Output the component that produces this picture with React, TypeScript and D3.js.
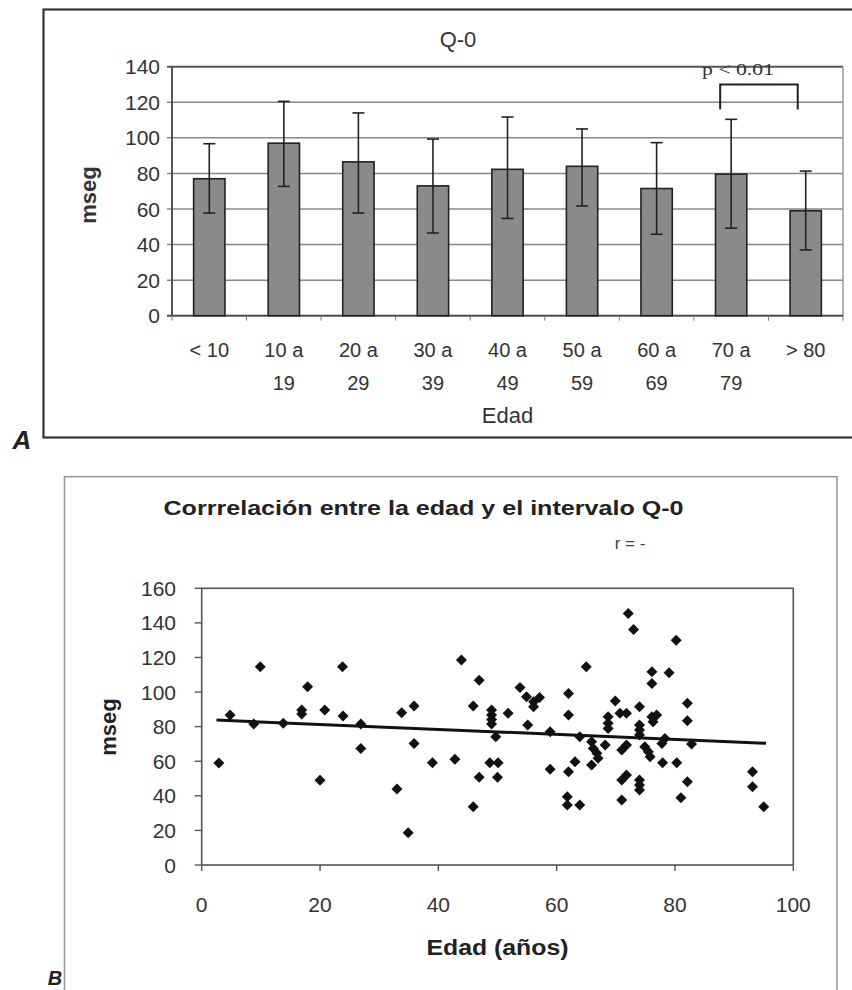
import React from "react";
import * as d3 from "d3";

// ---------- Chart A data ----------
const ageGroupsLine1 = ["< 10", "10 a", "20 a", "30 a", "40 a", "50 a", "60 a", "70 a", "> 80"];
const ageGroupsLine2 = ["", "19", "29", "39", "49", "59", "69", "79", ""];
const ageGroupIds = ["<10", "10-19", "20-29", "30-39", "40-49", "50-59", "60-69", "70-79", ">80"];
const meanQ0 = [77, 97, 86.5, 73, 82.3, 84, 71.5, 79.6, 59];
const upperQ0 = [96.7, 120.5, 114, 99.3, 111.7, 105, 97.3, 110.4, 81.3];
const lowerQ0 = [57.7, 72.7, 57.7, 46.5, 54.7, 61.7, 45.8, 49.2, 37];
const yTicksA = [0, 20, 40, 60, 80, 100, 120, 140];
const bracketFrom = "70-79";
const bracketTo = ">80";
const bracketValue = 130;
const bracketLegValue = 116;

// ---------- Chart B data ----------
const ageYears = [
  2.9, 4.8, 8.8, 9.9, 13.8, 16.9, 16.9, 17.9, 20, 20.8, 23.8, 23.9, 26.9, 26.9, 33, 33.8, 34.9, 35.9, 35.9, 39,
  42.8, 43.9, 45.9, 45.9, 46.9, 46.9, 48.7, 50.1, 50, 49, 49, 49, 49, 49.7, 51.8,
  53.8, 54.9, 56.1, 56.1, 57.1, 55.1, 58.9, 58.9, 62, 62, 62, 63.1, 61.8, 61.8, 63.9, 65, 63.9, 65.9, 66.2, 66.8,
  67, 65.9, 68.2, 68.7, 68.7, 68.7, 69.9, 70.7, 71.8, 71, 71.8, 71, 71.8, 71, 72.1, 73, 74, 74, 74, 74, 74, 74,
  74, 74.9, 75.5, 75.8, 76.1, 76.1, 76.1, 76.3, 76.9, 77.8, 78.3, 77.9, 80.3, 79, 80.2, 81, 82.1, 82.1, 82.1, 82.8,
  93.1, 93.1, 95,
];
const q0Values = [
  59, 86.7, 81.5, 114.6, 81.9, 89.6, 87.3, 103, 49, 89.6, 114.6, 86.1, 81.5, 67.4, 43.9, 88, 18.7, 91.9, 70.3, 59.1,
  61.1, 118.5, 33.7, 91.9, 106.9, 50.7, 59.1, 59.1, 50.7, 89.6, 86.7, 84.2, 81.5, 74.2, 87.7,
  102.7, 97.3, 94.4, 91.5, 96.9, 80.9, 77, 55.3, 99.2, 86.7, 53.9, 59.7, 39.5, 34.7, 34.7, 114.6, 74.2, 71.3, 67.4, 64.6,
  61.7, 57.8, 69.4, 85.7, 81.9, 79, 94.8, 87.7, 87.7, 66.5, 69.4, 49.1, 52, 37.6, 145.5, 136.2, 91.5, 80.9, 78, 75.1, 49.1, 46.2,
  43.4, 68.4, 65.5, 62.6, 111.7, 105, 85.7, 82.8, 86.7, 70.3, 73.2, 59.1, 59.1, 111.2, 130, 38.9, 93.5, 83.4, 48.2, 69.9,
  53.9, 45.3, 33.7,
];
const trendAges = [2.5, 95.4];
const trendQ0 = [83.8, 70.4];
const xTicksB = [0, 20, 40, 60, 80, 100];
const yTicksB = [0, 20, 40, 60, 80, 100, 120, 140, 160];

const SANS = "'Liberation Sans', Arial, sans-serif";
const SERIF = "'Liberation Serif', 'Times New Roman', serif";

function ChartA() {
  const left = 172, right = 843, top = 66.7, bottom = 315.7;
  const x = d3.scaleBand<string>().domain(ageGroupIds).range([left, right]).paddingInner(0.58).paddingOuter(0.29);
  const y = d3.scaleLinear().domain([0, 140]).range([bottom, top]);
  const bw = x.bandwidth();
  const bx0 = (x(bracketFrom) as number) + bw / 2 - 11;
  const bx1 = (x(bracketTo) as number) + bw / 2 - 8;
  const boundaries = d3.range(ageGroupIds.length + 1).map((i) => left + (i * (right - left)) / ageGroupIds.length);
  return (
    <g>
      <rect x={43.5} y={9.5} width={830} height={428} fill="none" stroke="#333" strokeWidth={2.2} />
      <text x={458} y={47} textAnchor="middle" fontFamily={SANS} fontSize={22} fill="#333">Q-0</text>
      {yTicksA.map((t) => (
        <line key={t} x1={left - 5} x2={right} y1={y(t)} y2={y(t)}
          stroke={t === 140 ? "#555" : "#888"} strokeWidth={t === 140 ? 2 : 1.5} />
      ))}
      <line x1={right} x2={right} y1={top} y2={bottom} stroke="#999" strokeWidth={1.5} />
      <line x1={left} x2={left} y1={top} y2={bottom} stroke="#444" strokeWidth={1.8} />
      <line x1={left - 5} x2={right} y1={bottom} y2={bottom} stroke="#444" strokeWidth={1.8} />
      {boundaries.map((b, i) => (
        <line key={i} x1={b} x2={b} y1={bottom} y2={bottom + 5} stroke="#777" strokeWidth={1} />
      ))}
      {yTicksA.map((t) => (
        <text key={t} x={160} y={y(t)} dy="0.36em" textAnchor="end" fontFamily={SANS} fontSize={21} fill="#333">{t}</text>
      ))}
      {ageGroupIds.map((g, i) => (
        <rect key={g} x={x(g)} y={y(meanQ0[i])} width={bw} height={bottom - y(meanQ0[i])}
          fill="#8a8a8a" stroke="#222" strokeWidth={1.6} />
      ))}
      {ageGroupIds.map((g, i) => {
        const cx = (x(g) as number) + bw / 2;
        return (
          <g key={g} stroke="#222" strokeWidth={1.6}>
            <line x1={cx} x2={cx} y1={y(upperQ0[i])} y2={y(lowerQ0[i])} />
            <line x1={cx - 6} x2={cx + 6} y1={y(upperQ0[i])} y2={y(upperQ0[i])} />
            <line x1={cx - 6} x2={cx + 6} y1={y(lowerQ0[i])} y2={y(lowerQ0[i])} />
          </g>
        );
      })}
      <path d={`M${bx0},${y(bracketLegValue)}V${y(bracketValue)}H${bx1}V${y(bracketLegValue)}`}
        fill="none" stroke="#222" strokeWidth={2} />
      <text x={738} y={75} textAnchor="middle" fontFamily={SERIF} fontSize={17} fill="#333"
        textLength={72} lengthAdjust="spacingAndGlyphs">p &lt; 0.01</text>
      {ageGroupIds.map((g, i) => {
        const cx = (x(g) as number) + bw / 2;
        return (
          <g key={g}>
            <text x={cx} y={357} textAnchor="middle" fontFamily={SANS} fontSize={20} fill="#333">{ageGroupsLine1[i]}</text>
            {ageGroupsLine2[i] && (
              <text x={cx} y={390} textAnchor="middle" fontFamily={SANS} fontSize={20} fill="#333">{ageGroupsLine2[i]}</text>
            )}
          </g>
        );
      })}
      <text x={(left + right) / 2} y={423} textAnchor="middle" fontFamily={SANS} fontSize={22} fill="#333">Edad</text>
      <text x={88} y={195} dy="0.35em" transform="rotate(-90 88 195)" textAnchor="middle" fontFamily={SANS}
        fontSize={22} fontWeight="bold" fill="#333">mseg</text>
      <text x={22} y={449} textAnchor="middle" fontFamily={SANS} fontSize={26} fontStyle="italic" fontWeight="bold" fill="#222">A</text>
    </g>
  );
}

function ChartB() {
  const left = 201.7, right = 793.3, top = 588.3, bottom = 865;
  const x = d3.scaleLinear().domain([0, 100]).range([left, right]);
  const y = d3.scaleLinear().domain([0, 160]).range([bottom, top]);
  const line = d3.line<number>().x((d) => x(d)).y((_, i) => y(trendQ0[i]));
  const diamond = "M0,-5.5L5.5,0L0,5.5L-5.5,0Z";
  return (
    <g>
      <rect x={64.5} y={476.7} width={772.5} height={520} fill="none" stroke="#999" strokeWidth={1.6} />
      <text x={423.5} y={515} textAnchor="middle" fontFamily={SANS} fontSize={21} fontWeight="bold" fill="#222"
        textLength={520} lengthAdjust="spacingAndGlyphs">Corrrelación entre la edad y el intervalo Q-0</text>
      <text x={630} y={549} textAnchor="middle" fontFamily={SANS} fontSize={17} fill="#444">r = -</text>
      <rect x={left} y={top} width={right - left} height={bottom - top} fill="none" stroke="#555" strokeWidth={1.6} />
      {yTicksB.map((t) => (
        <g key={t}>
          <line x1={left - 7} x2={left} y1={y(t)} y2={y(t)} stroke="#555" strokeWidth={1.4} />
          <text x={176} y={y(t)} dy="0.36em" textAnchor="end" fontFamily={SANS} fontSize={21} fill="#333">{t}</text>
        </g>
      ))}
      {xTicksB.map((t) => (
        <g key={t}>
          <line x1={x(t)} x2={x(t)} y1={bottom} y2={bottom + 6} stroke="#555" strokeWidth={1.4} />
          <text x={x(t)} y={912} textAnchor="middle" fontFamily={SANS} fontSize={21} fill="#333">{t}</text>
        </g>
      ))}
      {ageYears.map((a, i) => (
        <path key={i} d={diamond} transform={`translate(${x(a)},${y(q0Values[i])})`} fill="#111" />
      ))}
      <path d={line(trendAges) || ""} fill="none" stroke="#111" strokeWidth={3} />
      <text x={(left + right) / 2} y={955} textAnchor="middle" fontFamily={SANS} fontSize={22} fontWeight="bold" fill="#222"
        textLength={142} lengthAdjust="spacingAndGlyphs">Edad (años)</text>
      <text x={108} y={727} dy="0.35em" transform="rotate(-90 108 727)" textAnchor="middle" fontFamily={SANS}
        fontSize={22} fontWeight="bold" fill="#222">mseg</text>
      <text x={55} y={985} textAnchor="middle" fontFamily={SANS} fontSize={20} fontStyle="italic" fontWeight="bold" fill="#222">B</text>
    </g>
  );
}

export default function App() {
  return (
    <svg width={852} height={990} style={{ position: "absolute", left: 0, top: 0, background: "#fff" }}>
      <rect x={0} y={0} width={852} height={990} fill="#fff" />
      <ChartA />
      <ChartB />
    </svg>
  );
}
